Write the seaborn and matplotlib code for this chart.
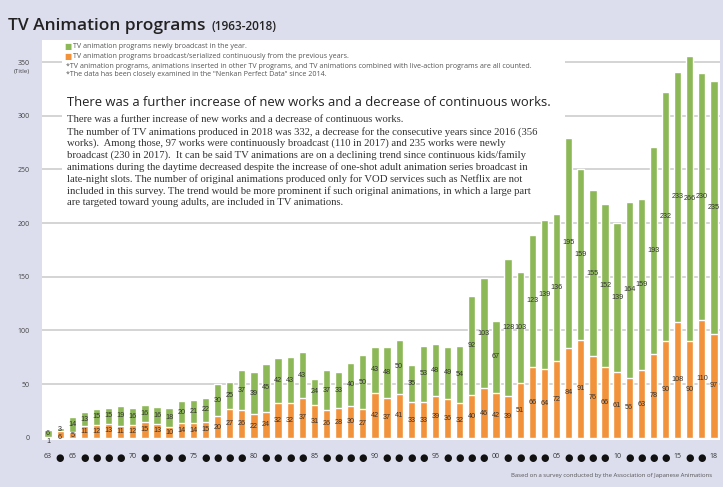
import numpy as np
import pandas as pd
import matplotlib
matplotlib.use('Agg')
import matplotlib.pyplot as plt
import seaborn as sns
from matplotlib.patches import Rectangle

# Data
years = list(range(1963, 2019))
continuing = [1, 6, 5, 11, 12, 13, 11, 12, 15, 13,
              10, 14, 14, 15, 20, 27, 26, 22, 24, 32,
              32, 37, 31, 26, 28, 30, 27, 42, 37, 41,
              33, 33, 39, 36, 32, 40, 46, 42, 39, 51,
              66, 64, 72, 84, 91, 76, 66, 61, 56, 63,
              78, 90, 108, 90, 110, 97]
new = [6, 3, 14, 13, 15, 15, 19, 16, 16, 16,
       18, 20, 21, 22, 30, 25, 37, 39, 45, 42,
       43, 43, 24, 37, 33, 40, 50, 43, 48, 50,
       35, 53, 48, 49, 54, 92, 103, 67, 128, 103,
       123, 139, 136, 195, 159, 155, 152, 139, 164, 159,
       193, 232, 233, 266, 230, 235]
labelled_years = [1963, 1965, 1970, 1975, 1980, 1985, 1990, 1995,
                  2000, 2005, 2010, 2015, 2018]
y_ticks = [0, 50, 100, 150, 200, 250, 300, 350]

df = pd.DataFrame({'year': years, 'continuing': continuing, 'new': new})
df['total'] = df['continuing'] + df['new']
df['year'] = df['year'].astype(str)

GREEN = '#8db857'
ORANGE = '#f2923a'
BG = '#dcdeed'

sns.set_style('white')
plt.rcParams['font.family'] = ['Open Sans', 'DejaVu Sans']

W, H = 723, 487
fig = plt.figure(figsize=(W / 100, H / 100), dpi=100, facecolor=BG)
ax = fig.add_axes([42 / W, 1 - 440 / H, 678 / W, 400 / H])
ax.set_facecolor('white')

def fx(px):
    return px / W

def fy(py):
    return 1 - py / H

# gridlines
for t in y_ticks[1:]:
    ax.axhline(t, color='#c9c9c9', lw=1.1, zorder=0)

# white box behind the text block
ax.add_patch(Rectangle((fx(62), fy(212)), fx(565) - fx(62), fy(42) - fy(212),
                       transform=fig.transFigure, facecolor='white',
                       edgecolor='none', zorder=1))

# stacked bars: totals in green, continuing in orange on top
sns.barplot(data=df, x='year', y='total', color=GREEN, width=0.6,
            saturation=1, ax=ax, zorder=2)
sns.barplot(data=df, x='year', y='continuing', color=ORANGE, width=0.6,
            saturation=1, ax=ax, zorder=3)

# value labels (small segments: push the orange label down a bit)
for i, (c, n) in enumerate(zip(continuing, new)):
    y_new = c + n / 2
    y_cont = min(c / 2, y_new - 7)
    ax.text(i, y_cont, str(c), ha='center', va='center', fontsize=5.2,
            color='#333333', family='Liberation Sans', zorder=4)
    ax.text(i, y_new, str(n), ha='center', va='center', fontsize=5.2,
            color='#333333', family='Liberation Sans', zorder=4)

ax.set_xlim(-0.5, len(years) - 0.5)
ax.set_ylim(-2, 370.5)
sns.despine(ax=ax, left=True, bottom=True, right=True, top=True)
ax.set_xlabel('')
ax.set_ylabel('')

ax.set_yticks(y_ticks)
ax.set_yticklabels([str(t) for t in y_ticks], fontsize=5, color='#444444')
ax.tick_params(axis='y', length=8, color='#c9c9c9', width=1, pad=1)

xt = [str(y)[2:] if y in labelled_years else '\u25cf' for y in years]
ax.set_xticks(range(len(years)))
ax.set_xticklabels(xt, color='#333333')
ax.tick_params(axis='x', length=0, pad=9)
for lbl in ax.get_xticklabels():
    if lbl.get_text() == '\u25cf':
        lbl.set_fontsize(7)
        lbl.set_color('#111111')
        lbl.set_family('DejaVu Sans')
    else:
        lbl.set_fontsize(5)

fig.text(fx(30), fy(71), '(Title)', fontsize=4.5, color='#444444',
         ha='right', va='center')

# title
fig.text(fx(8), fy(30), 'TV Animation programs', fontsize=12.5,
         fontweight='semibold', color='#222222', va='baseline')
fig.text(fx(211), fy(30), '(1963-2018)', fontsize=8.5,
         fontweight='semibold', color='#222222', va='baseline')

# legend and notes
fig.text(fx(64), fy(47), '\u25a0', color=GREEN, fontsize=5.5, va='center',
         family='DejaVu Sans')
fig.text(fx(73), fy(47), 'TV animation programs newly broadcast in the year.',
         fontsize=5.1, color='#555555', va='center')
fig.text(fx(64), fy(57), '\u25a0', color=ORANGE, fontsize=5.5, va='center',
         family='DejaVu Sans')
fig.text(fx(73), fy(57),
         'TV animation programs broadcast/serialized continuously from the previous years.',
         fontsize=5.1, color='#555555', va='center')
fig.text(fx(66), fy(66),
         '*TV animation programs, animations inserted in other TV programs, and TV animations '
         'combined with live-action programs are all counted.',
         fontsize=5.1, color='#555555', va='center')
fig.text(fx(66), fy(75),
         '*The data has been closely examined in the "Nenkan Perfect Data" since 2014.',
         fontsize=5.1, color='#555555', va='center')

fig.text(fx(67), fy(103),
         'There was a further increase of new works and a decrease of continuous works.',
         fontsize=9.4, color='#222222', va='center')

para = [
    'There was a further increase of new works and a decrease of continuous works.',
    'The number of TV animations produced in 2018 was 332, a decrease for the consecutive years since 2016 (356',
    'works).  Among those, 97 works were continuously broadcast (110 in 2017) and 235 works were newly',
    'broadcast (230 in 2017).  It can be said TV animations are on a declining trend since continuous kids/family',
    'animations during the daytime decreased despite the increase of one-shot adult animation series broadcast in',
    'late-night slots. The number of original animations produced only for VOD services such as Netflix are not',
    'included in this survey. The trend would be more prominent if such original animations, in which a large part',
    'are targeted toward young adults, are included in TV animations.',
]
for k, line in enumerate(para):
    fig.text(fx(67), fy(120 + k * 11.8), line, fontsize=7.7,
             family='Liberation Serif', color='#333333', va='center')

fig.text(fx(712), fy(476),
         'Based on a survey conducted by the Association of Japanese Animations',
         fontsize=4.3, color='#555555', ha='right', va='center')

fig.savefig('out.png', dpi=100, facecolor=BG)
